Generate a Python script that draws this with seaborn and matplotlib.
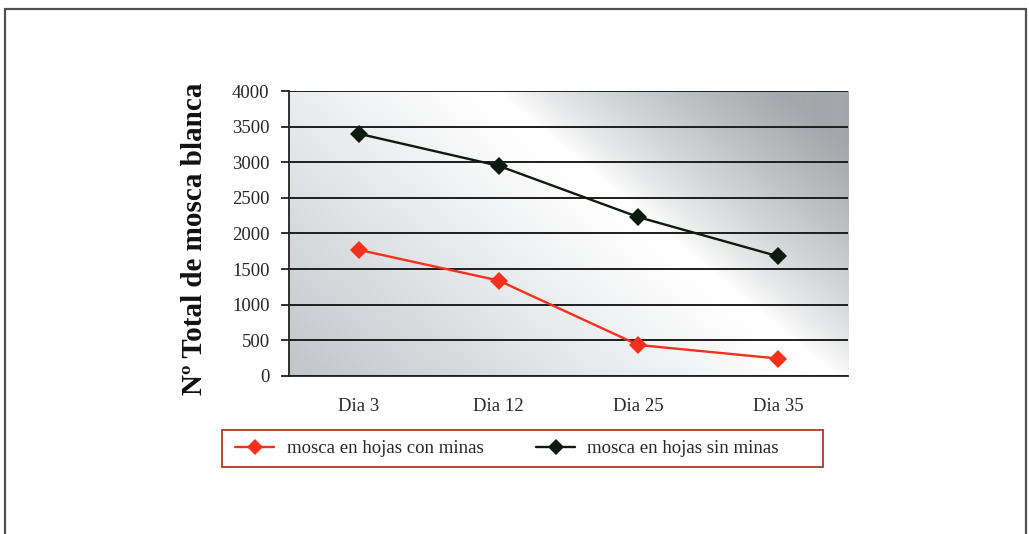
import numpy as np
import pandas as pd
import matplotlib
matplotlib.use("Agg")
import matplotlib.pyplot as plt
from matplotlib.lines import Line2D
from matplotlib.patches import Rectangle
import seaborn as sns

# Data
dias = ["Dia 3", "Dia 12", "Dia 25", "Dia 35"]
con_minas = [1770, 1340, 435, 245]
sin_minas = [3400, 2950, 2230, 1680]
serie_con = "mosca en hojas con minas"
serie_sin = "mosca en hojas sin minas"
y_ticks = [0, 500, 1000, 1500, 2000, 2500, 3000, 3500, 4000]

df = pd.DataFrame({
    "dia": dias * 2,
    "total": con_minas + sin_minas,
    "serie": [serie_con] * len(dias) + [serie_sin] * len(dias),
})

sns.set_theme(style="white")
plt.rcParams["font.family"] = ["Liberation Serif", "DejaVu Serif"]

W, H = 1029, 534
fig = plt.figure(figsize=(W / 100, H / 100), dpi=100)
fig.patch.set_facecolor("white")

# outer frame
for xs, ys in [([5 / W, 5 / W], [0, 1 - 9 / H]),
               ([5 / W, 1026 / W], [1 - 9 / H, 1 - 9 / H]),
               ([1026 / W, 1026 / W], [1 - 9 / H, 0])]:
    fig.add_artist(Line2D(xs, ys, color="#505050", lw=1.6, transform=fig.transFigure))

ax_l, ax_r, ax_t, ax_b = 289, 848, 91, 376
ax = fig.add_axes([ax_l / W, 1 - ax_b / H, (ax_r - ax_l) / W, (ax_b - ax_t) / H])

# diagonal shaded background of the plot area
pw, ph = ax_r - ax_l, ax_b - ax_t
xx, yy = np.meshgrid(np.arange(pw), np.arange(ph))
x_line = 200 + yy * (340 / ph)          # white band running down to the right
d = (xx - x_line) / np.sqrt(2)
left = np.clip((-d - 10) / 360, 0, 1) ** 1.1
right = np.clip((d - 6) / 200, 0, 1) ** 0.75
c_left = np.array([194, 198, 203]) / 255
c_right = np.array([164, 167, 171]) / 255
img = np.ones((ph, pw, 3))
img = img - left[..., None] * (1 - c_left) - right[..., None] * (1 - c_right)
img = np.clip(img, 0, 1)
ax.imshow(img, extent=(-0.5, 3.5, 0, 4000), aspect="auto", zorder=0,
          interpolation="bilinear")

sns.lineplot(data=df, x="dia", y="total", hue="serie", style="serie",
             palette={serie_con: "#f5301c", serie_sin: "#0e1a0e"},
             markers={serie_con: "D", serie_sin: "D"},
             dashes={serie_con: "", serie_sin: ""},
             markersize=9, linewidth=1.7, markeredgewidth=0,
             legend=False, ax=ax, zorder=3, sort=False)

ax.set_xlim(-0.5, 3.5)
ax.set_ylim(0, 4000)
ax.set_yticks(y_ticks)
ax.set_yticklabels([str(v) for v in y_ticks], fontsize=13.5)
ax.set_xticks(range(len(dias)))
ax.set_xticklabels(dias, fontsize=13.5)
ax.set_xticks(np.arange(-0.5, 4, 1), minor=True)
ax.tick_params(axis="x", which="major", length=0, pad=16)
ax.tick_params(axis="x", which="minor", length=6, width=1.3, color="#202020", direction="out")
ax.tick_params(axis="y", which="major", length=6, width=1.3, color="#202020",
               direction="out", pad=8, left=True)
ax.yaxis.grid(True, color="#1e1e1e", lw=1.4, zorder=2)
ax.set_axisbelow(False)
ax.set_xlabel("")
ax.set_ylabel("")
for s in ["top", "right"]:
    ax.spines[s].set_visible(False)
for s in ["left", "bottom"]:
    ax.spines[s].set_color("#202020")
    ax.spines[s].set_linewidth(1.3)
    ax.spines[s].set_zorder(4)

fig.text(195 / W, 1 - 238.5 / H, "Nº Total de mosca blanca", rotation=90,
         ha="center", va="center", fontsize=21, fontweight="bold", color="#111111")

# legend box
fig.add_artist(Rectangle((222 / W, 1 - 467 / H), (823 - 222) / W, 37 / H,
                         transform=fig.transFigure, fill=False,
                         edgecolor="#b04a30", lw=1.4))
handles = [
    Line2D([], [], color="#f5301c", marker="D", markersize=8, lw=1.7, markeredgewidth=0),
    Line2D([], [], color="#0e1a0e", marker="D", markersize=8, lw=1.7, markeredgewidth=0),
]
leg = fig.legend(handles, [serie_con, serie_sin], loc="center left",
                 bbox_to_anchor=(235 / W, 1 - 448.5 / H), ncol=2, fontsize=13.5,
                 frameon=False, handlelength=2.1, handletextpad=0.65,
                 columnspacing=2.8, borderpad=0, borderaxespad=0)

fig.savefig("out.png", dpi=100, facecolor="white")
